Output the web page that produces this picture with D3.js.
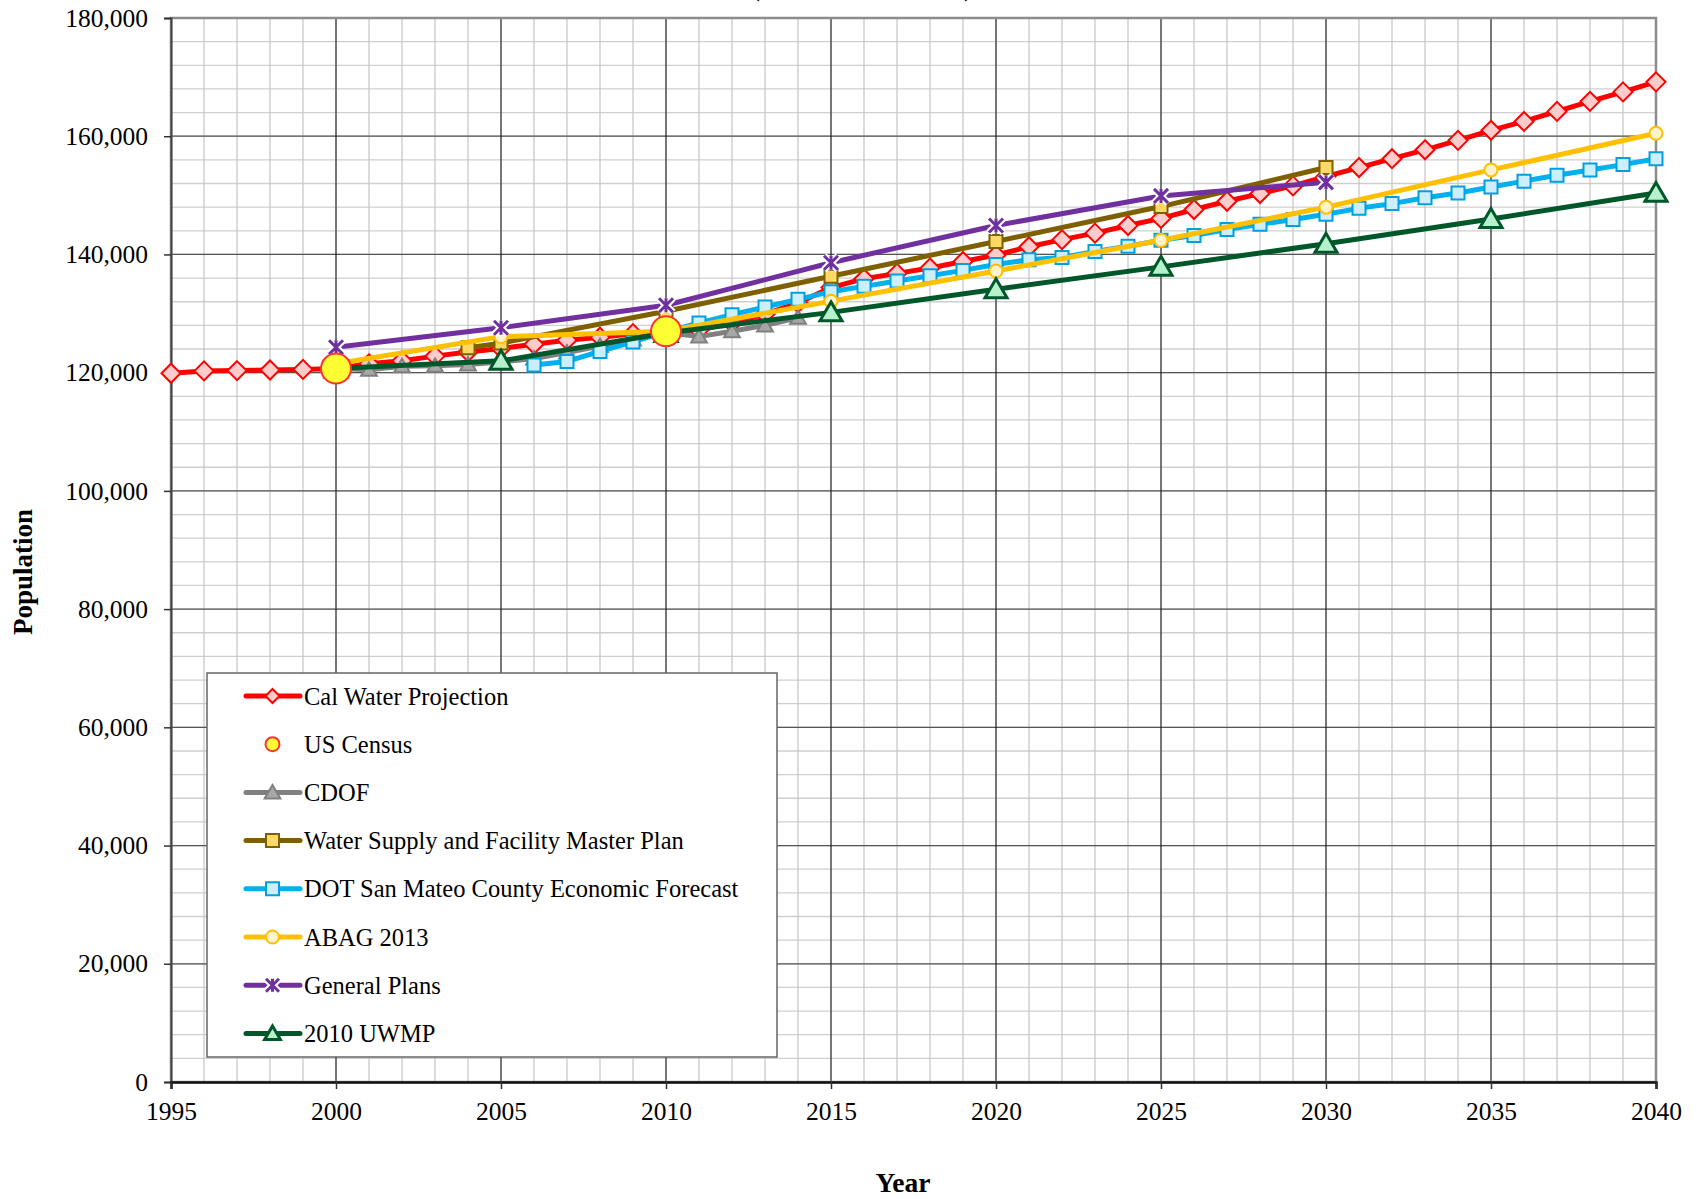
<!DOCTYPE html>
<html>
<head>
<meta charset="utf-8">
<script src="https://cdn.jsdelivr.net/npm/d3@7"></script>
<style>
    body { margin: 0; background: #fff; }
    svg { display: block; font-family: "Liberation Serif", "Times New Roman", serif; }
</style>
</head>
<body>
<svg id="population-chart" width="1699" height="1199"></svg>
<script>
// ---- data ----
const calWaterYears = [1995, 1996, 1997, 1998, 1999, 2000, 2001, 2002, 2003, 2004, 2005, 2006, 2007, 2008, 2009, 2010,
    2011, 2012, 2013, 2014, 2015, 2016, 2017, 2018, 2019, 2020, 2021, 2022, 2023, 2024, 2025, 2026, 2027, 2028, 2029, 2030,
    2031, 2032, 2033, 2034, 2035, 2036, 2037, 2038, 2039, 2040];
const calWaterValues = [119900, 120300, 120350, 120450, 120550, 120700, 121500, 122000, 122800, 123500, 124100, 124800, 125500, 126000, 126600, 127000,
    127200, 128400, 129900, 131800, 134400, 135900, 136800, 137700, 138800, 139900, 141300, 142500, 143600, 144900, 146100, 147600, 149000, 150300, 151600, 153200,
    154700, 156200, 157700, 159300, 161000, 162500, 164200, 165900, 167500, 169200];

const censusYears = [2000, 2010];
const censusValues = [120700, 127000];

const cdofYears = [2000, 2001, 2002, 2003, 2004, 2005, 2006, 2007, 2008, 2009, 2010, 2011, 2012, 2013, 2014];
const cdofValues = [120700, 120500, 121100, 121150, 121400, 121800, 122400, 123400, 124500, 125600, 126800, 126100, 127000, 128000, 129300];

const masterPlanYears = [2004, 2005, 2010, 2015, 2020, 2025, 2030];
const masterPlanValues = [124200, 125000, 130400, 136300, 142200, 148100, 154700];

const dotYears = [2006, 2007, 2008, 2009, 2010, 2011, 2012, 2013, 2014, 2015, 2016, 2017, 2018, 2019, 2020, 2021, 2022, 2023,
    2024, 2025, 2026, 2027, 2028, 2029, 2030, 2031, 2032, 2033, 2034, 2035, 2036, 2037, 2038, 2039, 2040];
const dotValues = [121300, 121900, 123600, 125200, 126900, 128400, 129800, 131100, 132400, 133700, 134600, 135500, 136400, 137300, 138300, 139100, 139500, 140500,
    141400, 142400, 143200, 144200, 145100, 145900, 146800, 147800, 148600, 149600, 150400, 151400, 152400, 153400, 154300, 155200, 156200];

const abagYears = [2000, 2005, 2010, 2015, 2020, 2025, 2030, 2035, 2040];
const abagValues = [121500, 126100, 127000, 132100, 137200, 142400, 148000, 154300, 160500];

const generalPlanYears = [2000, 2005, 2010, 2015, 2020, 2025, 2030];
const generalPlanValues = [124300, 127600, 131400, 138600, 144900, 149900, 152200];

const uwmpYears = [2000, 2005, 2010, 2015, 2020, 2025, 2030, 2035, 2040];
const uwmpValues = [120700, 122000, 126700, 130200, 134100, 137900, 141800, 146000, 150400];

const xTickValues = [1995, 2000, 2005, 2010, 2015, 2020, 2025, 2030, 2035, 2040];
const yTickValues = [0, 20000, 40000, 60000, 80000, 100000, 120000, 140000, 160000, 180000];

const seriesNames = ["Cal Water Projection", "US Census", "CDOF", "Water Supply and Facility Master Plan",
    "DOT San Mateo County Economic Forecast", "ABAG 2013", "General Plans", "2010 UWMP"];

// ---- marker shapes ----
const markerPath = {
    diamond: r => `M0,${-r}L${r},0L0,${r}L${-r},0Z`,
    square: r => `M${-r},${-r}H${r}V${r}H${-r}Z`,
    triangle: r => `M0,${-r}L${r * 1.05},${r * 0.8}L${-r * 1.05},${r * 0.8}Z`,
    circle: r => `M${r},0A${r},${r} 0 1,1 ${-r},0A${r},${r} 0 1,1 ${r},0Z`,
    star: r => `M${-r},${-r}L${r},${r}M${r},${-r}L${-r},${r}M0,${-r}V${r}`
};

// options per series, built from the arrays above (drawing order: census last)
const series = [
    { name: seriesNames[0], years: calWaterYears, values: calWaterValues, line: "#ff0000", shape: "diamond", size: 9.5, legendSize: 7, fill: "#ffcccc", stroke: "#ff0000", sw: 2 },
    { name: seriesNames[2], years: cdofYears, values: cdofValues, line: "#808080", shape: "triangle", size: 7.5, legendSize: 7.5, fill: "#a6a6a6", stroke: "#808080", sw: 2 },
    { name: seriesNames[3], years: masterPlanYears, values: masterPlanValues, line: "#7f6000", shape: "square", size: 6.5, legendSize: 6.5, fill: "#ffd966", stroke: "#7f6000", sw: 2 },
    { name: seriesNames[4], years: dotYears, values: dotValues, line: "#00b0f0", shape: "square", size: 6.5, legendSize: 6.5, fill: "#ccefff", stroke: "#00a0e0", sw: 2 },
    { name: seriesNames[5], years: abagYears, values: abagValues, line: "#ffc000", shape: "circle", size: 6.5, legendSize: 6.5, fill: "#fff2cc", stroke: "#ffc000", sw: 2 },
    { name: seriesNames[6], years: generalPlanYears, values: generalPlanValues, line: "#7030a0", shape: "star", size: 7, legendSize: 6.5, fill: "none", stroke: "#7030a0", sw: 3 },
    { name: seriesNames[7], years: uwmpYears, values: uwmpValues, line: "#00582a", shape: "triangle", size: 10.5, legendSize: 7.5, fill: "#b6f0cc", stroke: "#00582a", sw: 3 },
    { name: seriesNames[1], years: censusYears, values: censusValues, line: null, shape: "circle", size: 15, legendSize: 7, fill: "#ffff33", stroke: "#ff3333", sw: 2 }
];

const svg = d3.select("#population-chart");
const margin = { top: 18, left: 171, right: 43, bottom: 117 };
const width = +svg.attr("width");
const height = +svg.attr("height");
const innerWidth = width - margin.left - margin.right;
const innerHeight = height - margin.top - margin.bottom;

svg.append("rect").attr("width", width).attr("height", height).attr("fill", "#fff");

// title, cut off at the top edge as in the original
svg.append("text")
    .attr("x", 862)
    .attr("y", -3)
    .attr("text-anchor", "middle")
    .style("font-size", "21px")
    .style("font-weight", "bold")
    .text("(Mid-Peninsula District)");

const g = svg.append("g").attr("transform", `translate(${margin.left}, ${margin.top})`);

const xScale = d3.scaleLinear().domain([1995, 2040]).range([0, innerWidth]);
const yScale = d3.scaleLinear().domain([0, 180000]).range([innerHeight, 0]);

// minor grid
g.append("g")
    .selectAll("line")
    .data(d3.range(0, 180001, 4000))
    .enter()
    .append("line")
    .attr("x1", 0)
    .attr("x2", innerWidth)
    .attr("y1", d => yScale(d))
    .attr("y2", d => yScale(d))
    .attr("stroke", "#cfcfcf")
    .attr("stroke-width", 1.3);

g.append("g")
    .selectAll("line")
    .data(d3.range(1996, 2040))
    .enter()
    .append("line")
    .attr("x1", d => xScale(d))
    .attr("x2", d => xScale(d))
    .attr("y1", 0)
    .attr("y2", innerHeight)
    .attr("stroke", "#c4c4c4")
    .attr("stroke-width", 1.2);

// major grid
g.append("g")
    .selectAll("line")
    .data(yTickValues)
    .enter()
    .append("line")
    .attr("x1", 0)
    .attr("x2", innerWidth)
    .attr("y1", d => yScale(d))
    .attr("y2", d => yScale(d))
    .attr("stroke", "#555")
    .attr("stroke-width", 1.2);

g.append("g")
    .selectAll("line")
    .data(xTickValues)
    .enter()
    .append("line")
    .attr("x1", d => xScale(d))
    .attr("x2", d => xScale(d))
    .attr("y1", 0)
    .attr("y2", innerHeight)
    .attr("stroke", "#111")
    .attr("stroke-width", 1);

// plot border
g.append("rect")
    .attr("width", innerWidth)
    .attr("height", innerHeight)
    .attr("fill", "none")
    .attr("stroke", "#8c8c8c")
    .attr("stroke-width", 2.5);

// axes
const yAxis = g.append("g")
    .call(d3.axisLeft(yScale).tickValues(yTickValues).tickFormat(d3.format(",")).tickSize(7).tickPadding(16));
const xAxis = g.append("g")
    .attr("transform", `translate(0, ${innerHeight})`)
    .call(d3.axisBottom(xScale).tickValues(xTickValues).tickFormat(d3.format("d")).tickSize(7).tickPadding(13));

[yAxis, xAxis].forEach(ax => {
    ax.attr("font-family", null).attr("font-size", null);
    ax.selectAll("text").style("font-size", "25.5px").attr("fill", "#000");
    ax.selectAll(".tick line").attr("stroke", "#333").attr("stroke-width", 1.5);
});
yAxis.select(".domain").attr("stroke", "#444").attr("stroke-width", 2);
xAxis.select(".domain").attr("stroke", "#111").attr("stroke-width", 2.5);

// axis titles
svg.append("text")
    .attr("x", 903)
    .attr("y", 1192)
    .attr("text-anchor", "middle")
    .style("font-size", "27.5px")
    .style("font-weight", "bold")
    .text("Year");

svg.append("text")
    .attr("transform", "translate(32, 572) rotate(-90)")
    .attr("text-anchor", "middle")
    .style("font-size", "27px")
    .style("font-weight", "bold")
    .text("Population");

// series
const lineGen = d3.line()
    .x(d => xScale(d[0]))
    .y(d => yScale(d[1]));

function drawMarker(sel, s, r) {
    if (s.shape === "star") {
        sel.append("path")
            .attr("d", markerPath.star(r))
            .attr("fill", "none")
            .attr("stroke", "#fff")
            .attr("stroke-width", 7);
        sel.append("path")
            .attr("d", markerPath.star(r))
            .attr("fill", "none")
            .attr("stroke", s.stroke)
            .attr("stroke-width", s.sw);
    } else {
        sel.append("path")
            .attr("d", markerPath[s.shape](r))
            .attr("fill", s.fill)
            .attr("stroke", s.stroke)
            .attr("stroke-width", s.sw)
            .attr("stroke-linejoin", "miter");
    }
}

series.forEach(s => {
    const points = s.years.map((yr, i) => [yr, s.values[i]]);
    const sg = g.append("g").attr("class", "series");

    if (s.line) {
        sg.append("path")
            .datum(points)
            .attr("d", lineGen)
            .attr("fill", "none")
            .attr("stroke", s.line)
            .attr("stroke-width", 5)
            .attr("stroke-linejoin", "round");
    }

    points.forEach(p => {
        const m = sg.append("g").attr("transform", `translate(${xScale(p[0])}, ${yScale(p[1])})`);
        drawMarker(m, s, s.size);
    });
});

// legend
const legendOrder = [0, 7, 1, 2, 3, 4, 5, 6];
const legend = svg.append("g");

legend.append("rect")
    .attr("x", 207)
    .attr("y", 673)
    .attr("width", 570)
    .attr("height", 384)
    .attr("fill", "#fff")
    .attr("stroke", "#666")
    .attr("stroke-width", 1.5);

legendOrder.forEach((si, i) => {
    const s = series[si];
    const rowY = 696 + i * 48.2;
    const row = legend.append("g");
    if (s.line) {
        row.append("line")
            .attr("x1", 246)
            .attr("x2", 300)
            .attr("y1", rowY)
            .attr("y2", rowY)
            .attr("stroke", s.line)
            .attr("stroke-width", 5)
            .attr("stroke-linecap", "round");
    }
    const m = row.append("g").attr("transform", `translate(272.5, ${rowY})`);
    drawMarker(m, s, s.legendSize);
    row.append("text")
        .attr("x", 304)
        .attr("y", rowY)
        .attr("dy", "0.35em")
        .style("font-size", "24.5px")
        .text(s.name);
});
</script>
</body>
</html>
